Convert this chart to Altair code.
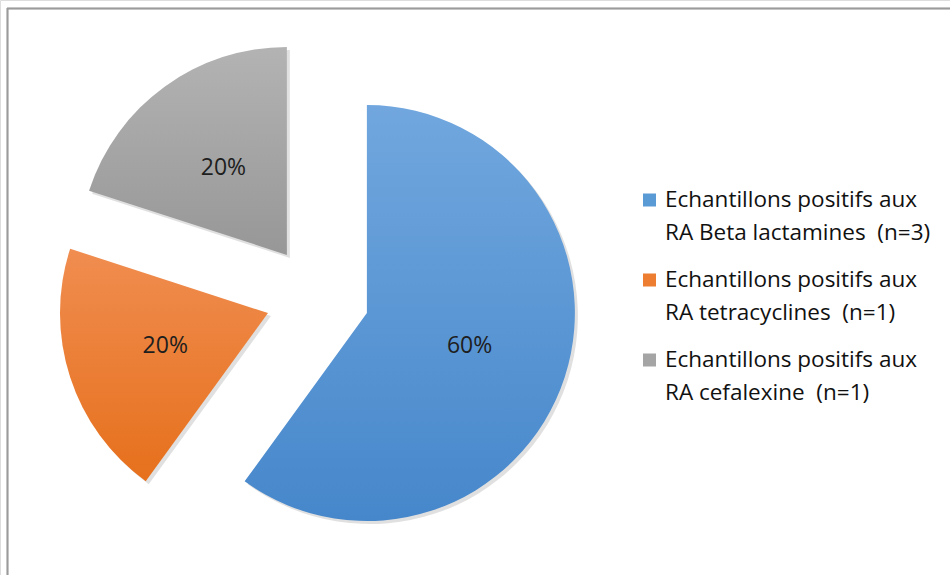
import altair as alt
import pandas as pd

# ---- data ----
categories = ["Beta lactamines", "tetracyclines", "cefalexine"]
counts = [3, 1, 1]
legend_labels = [
    "Echantillons positifs aux\nRA Beta lactamines \u00a0(n=3)",
    "Echantillons positifs aux\nRA tetracyclines \u00a0(n=1)",
    "Echantillons positifs aux\nRA cefalexine \u00a0(n=1)",
]

# ---- style ----
solid_colors = ["#5B9BD5", "#ED7D31", "#A5A5A5"]
grad_top = ["#71A7DE", "#F08D50", "#B3B3B3"]
grad_bottom = ["#4687CB", "#E6701C", "#979797"]
EXPLODE = 0.25
RADIUS = 208
FONT = "Open Sans"

df = pd.DataFrame({
    "cat": categories,
    "count": counts,
    "legend": legend_labels,
    "order": list(range(len(categories))),
})

xs = alt.Scale(domain=[-1.526, 3.041], nice=False, zero=False)
ys = alt.Scale(domain=[-1.337, 1.428], nice=False, zero=False)
ts = alt.Scale(domain=[0, 1])

base = alt.Chart(df).transform_joinaggregate(
    total="sum(count)"
).transform_window(
    cum="sum(count)", sort=[alt.SortField("order")], frame=[None, 0]
).transform_calculate(
    end_f="datum.cum / datum.total",
    start_f="(datum.cum - datum.count) / datum.total",
    mid_f="(datum.cum - datum.count / 2) / datum.total",
    pct="format(datum.count / datum.total, '.0%')",
).transform_calculate(
    dx=f"{EXPLODE} * sin(datum.mid_f * 2 * PI)",
    dy=f"{EXPLODE} * cos(datum.mid_f * 2 * PI)",
)

enc = dict(
    x=alt.X("dx:Q", scale=xs, axis=None),
    y=alt.Y("dy:Q", scale=ys, axis=None),
    theta=alt.Theta("start_f:Q", scale=ts, stack=None),
    theta2=alt.Theta2("end_f:Q"),
    radius=alt.value(RADIUS),
)

shadow = base.mark_arc(color="#000000", opacity=0.12, xOffset=3, yOffset=3).encode(**enc)

slices = []
for cat, top, bot in zip(categories, grad_top, grad_bottom):
    g = alt.Gradient(
        gradient="linear",
        stops=[alt.GradientStop(color=top, offset=0), alt.GradientStop(color=bot, offset=1)],
        x1=0, x2=0, y1=0, y2=1,
    )
    slices.append(
        base.transform_filter(alt.datum.cat == cat).mark_arc(fill=g, stroke=None).encode(**enc)
    )

labels = base.mark_text(fontSize=23, font=FONT, color="#1e1e1e").encode(
    x=alt.X("dx:Q", scale=xs, axis=None),
    y=alt.Y("dy:Q", scale=ys, axis=None),
    theta=alt.Theta("mid_f:Q", scale=ts, stack=None),
    radius=alt.value(108),
    text="pct:N",
)

ly = alt.Scale(domain=categories, range=[200, 360], padding=0)
leg_sq = alt.Chart(df).mark_square(size=169, opacity=1).encode(
    x=alt.value(649.5),
    y=alt.Y("cat:N", scale=ly, axis=None),
    color=alt.Color("cat:N", scale=alt.Scale(domain=categories, range=solid_colors), legend=None),
)
leg_tx = alt.Chart(df).mark_text(
    align="left", baseline="middle", lineBreak="\n", lineHeight=33,
    fontSize=22.5, font=FONT, color="#111111",
).encode(
    x=alt.value(665),
    y=alt.Y("cat:N", scale=ly, axis=None),
    text="legend:N",
)

frame_v = alt.Chart(df).mark_rule(color="#9b9b9b", strokeWidth=1.5).encode(
    x=alt.value(7.5), y=alt.value(8), y2=alt.value(575)
)
frame_h = alt.Chart(df).mark_rule(color="#9b9b9b", strokeWidth=1.5).encode(
    x=alt.value(7), x2=alt.value(950), y=alt.value(8.5)
)

chart = alt.layer(
    shadow, *slices, labels, leg_sq, leg_tx, frame_v, frame_h
).resolve_scale(
    x="independent", y="independent"
).properties(
    width=950, height=575, padding=0, autosize=alt.AutoSizeParams(type="none")
).configure_view(stroke=None).configure(background="white")

chart.save("out.html", embed_options={"renderer": "svg", "actions": False})
